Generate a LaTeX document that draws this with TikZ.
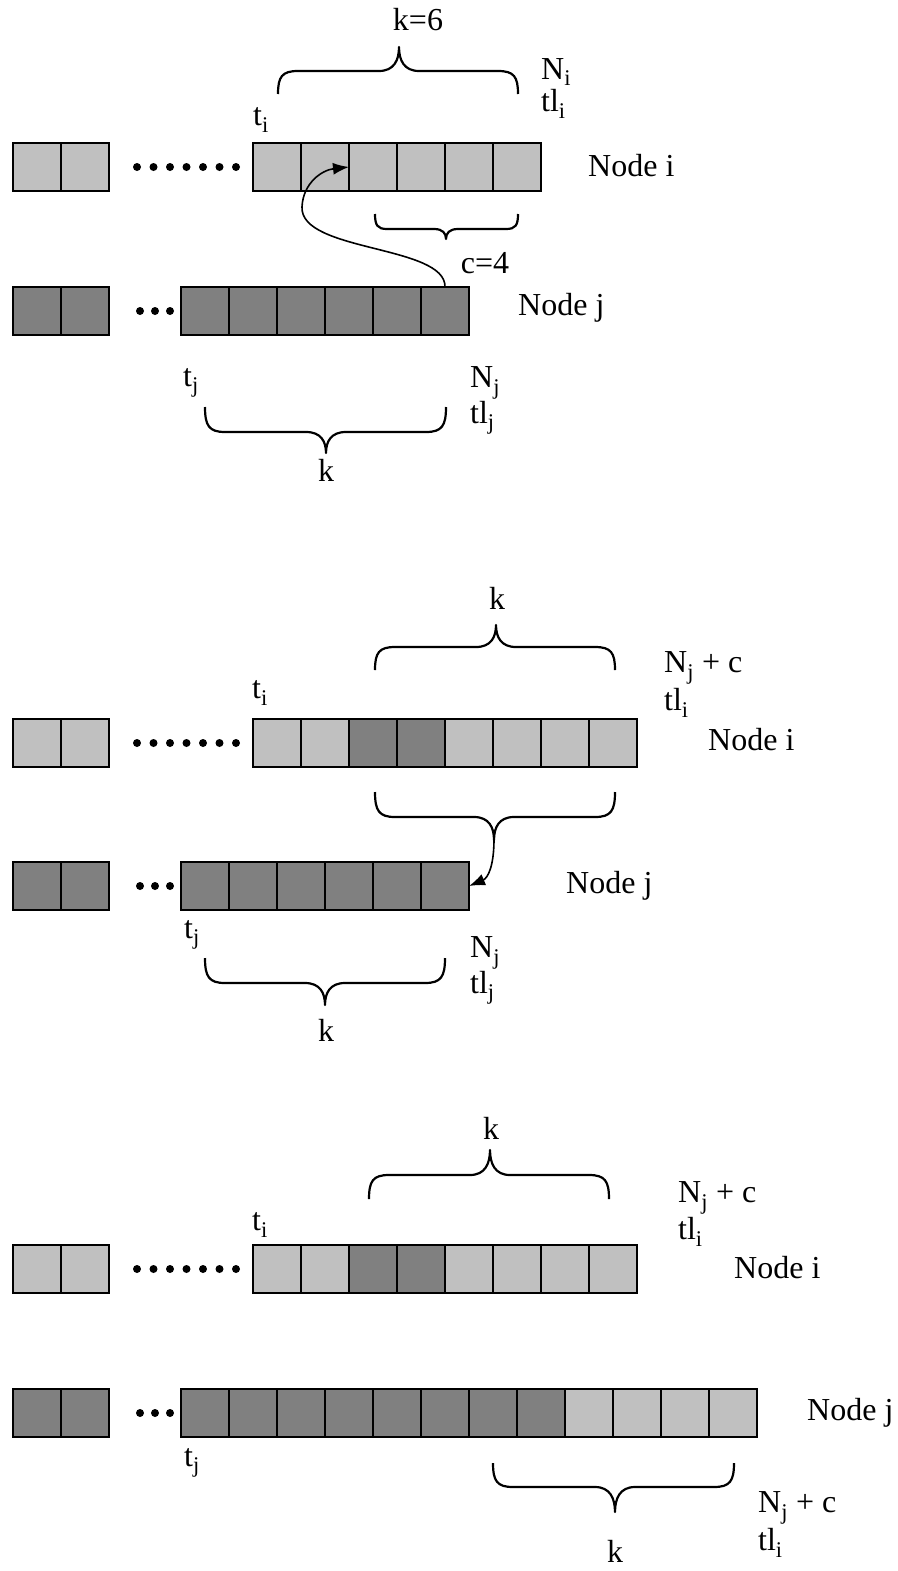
\documentclass[tikz,border=0pt]{standalone}
\usepackage{fontspec}
\setmainfont{Liberation Serif}
\usetikzlibrary{arrows.meta}
\definecolor{lightc}{HTML}{C0C0C0}
\definecolor{darkc}{HTML}{808080}
\newcommand{\hbr}[7]{%
 \draw[br] (#1,#4) .. controls (#1,{#5+0.25*(#4-#5)}) and ({#1+0.2*#7},#5) .. ({#1+#7},#5) -- ({#3-#7},#5) .. controls ({#3-0.25*#7},#5) and (#3,{#5+0.45*(#6-#5)}) .. (#3,#6) .. controls (#3,{#5+0.45*(#6-#5)}) and ({#3+0.25*#7},#5) .. ({#3+#7},#5) -- ({#2-#7},#5) .. controls ({#2-0.2*#7},#5) and (#2,{#5+0.25*(#4-#5)}) .. (#2,#4);}
\tikzset{
 cell/.style={draw=black, line width=1.8pt, minimum width=48pt, minimum height=48pt, inner sep=0pt, outer sep=0pt},
 lc/.style={cell, fill=lightc},
 dc/.style={cell, fill=darkc},
 lbl/.style={font=\fontsize{32}{38}\selectfont, inner sep=0pt},
 lblw/.style={lbl, anchor=west},
 br/.style={line width=2.2pt, line join=round},
 arr/.style={line width=1.6pt, -{Latex[length=16pt,width=12pt]}},
 dot/.style={circle, fill=black, inner sep=0pt, minimum size=8pt}
}
\begin{document}
\begin{tikzpicture}[x=1pt,y=-1pt]
\useasboundingbox (0,0) rectangle (897,1571);

% ---------------- Section 1 ----------------
\node[lc] (s1a1) at (37,167) {};
\node[lc] (s1a2) at (85,167) {};
\foreach \k in {1,...,7} \node[dot] (s1id\k) at ({137+16.5*(\k-1)},167) {};
\foreach \k in {1,...,6} \node[lc] (s1i\k) at ({229+48*\k},167) {};
\node[dc] (s1b1) at (37,311) {};
\node[dc] (s1b2) at (85,311) {};
\foreach \k in {1,...,3} \node[dot] (s1jd\k) at ({125+15*\k},311) {};
\foreach \k in {1,...,6} \node[dc] (s1j\k) at ({157+48*\k},311) {};

\hbr{278}{518}{399}{94}{71}{47}{20}
\hbr{375}{518}{446}{214}{229}{239}{12}
\hbr{205}{446}{326}{407}{432}{453}{20}

\draw[arr] (s1j6.north) .. controls (446,245) and (300,252) .. (302,207) .. controls (303,183) and (322,170) .. (s1i2.east);

\node[lbl] (k6) at (418,20) {k=6};
\node[lblw] (ni1) at (541,72) {N\textsubscript{i}};
\node[lblw] (tli1) at (541,104) {tl\textsubscript{i}};
\node[lbl] (ti1) at (261,120) {t\textsubscript{i}};
\node[lblw] (nodei1) at (588,166) {Node i};
\node[lbl] (c4) at (485,263) {c=4};
\node[lblw] (nodej1) at (518,308) {Node j};
\node[lbl] (tj1) at (191,383) {t\textsubscript{j}};
\node[lblw] (nj1) at (470,383) {N\textsubscript{j}};
\node[lblw] (tlj1) at (470,418) {tl\textsubscript{j}};
\node[lbl] (kb1) at (326,470) {k};

% ---------------- Section 2 ----------------
\node[lc] (s2a1) at (37,743) {};
\node[lc] (s2a2) at (85,743) {};
\foreach \k in {1,...,7} \node[dot] (s2id\k) at ({137+16.5*(\k-1)},743) {};
\foreach \k in {1,2,5,6,7,8} \node[lc] (s2i\k) at ({229+48*\k},743) {};
\foreach \k in {3,4} \node[dc] (s2i\k) at ({229+48*\k},743) {};
\node[dc] (s2b1) at (37,886) {};
\node[dc] (s2b2) at (85,886) {};
\foreach \k in {1,...,3} \node[dot] (s2jd\k) at ({125+15*\k},886) {};
\foreach \k in {1,...,6} \node[dc] (s2j\k) at ({157+48*\k},886) {};

\hbr{375}{615}{496}{670}{647}{625}{20}
\hbr{375}{615}{494}{792}{817}{840}{20}
\hbr{205}{445}{325}{958}{983}{1005}{20}

\coordinate (b2tip) at (494,839);
\draw[arr] (b2tip) .. controls (494,866) and (488,878) .. (s2j6.east);

\node[lbl] (kt2) at (497,598) {k};
\node[lblw] (njc2) at (664,668) {N\textsubscript{j} + c};
\node[lblw] (tli2) at (664,703) {tl\textsubscript{i}};
\node[lbl] (ti2) at (260,693) {t\textsubscript{i}};
\node[lblw] (nodei2) at (708,740) {Node i};
\node[lblw] (nodej2) at (566,886) {Node j};
\node[lbl] (tj2) at (192,935) {t\textsubscript{j}};
\node[lblw] (nj2) at (470,953) {N\textsubscript{j}};
\node[lblw] (tlj2) at (470,988) {tl\textsubscript{j}};
\node[lbl] (kb2) at (326,1030) {k};

% ---------------- Section 3 ----------------
\node[lc] (s3a1) at (37,1269) {};
\node[lc] (s3a2) at (85,1269) {};
\foreach \k in {1,...,7} \node[dot] (s3id\k) at ({137+16.5*(\k-1)},1269) {};
\foreach \k in {1,2,5,6,7,8} \node[lc] (s3i\k) at ({229+48*\k},1269) {};
\foreach \k in {3,4} \node[dc] (s3i\k) at ({229+48*\k},1269) {};
\node[dc] (s3b1) at (37,1413) {};
\node[dc] (s3b2) at (85,1413) {};
\foreach \k in {1,...,3} \node[dot] (s3jd\k) at ({125+15*\k},1413) {};
\foreach \k in {1,...,8} \node[dc] (s3j\k) at ({157+48*\k},1413) {};
\foreach \k in {9,...,12} \node[lc] (s3j\k) at ({157+48*\k},1413) {};

\hbr{369}{609}{490}{1199}{1175}{1150}{20}
\hbr{493}{734}{615}{1463}{1487}{1512}{20}

\node[lbl] (kt3) at (491,1128) {k};
\node[lblw] (njc3) at (678,1198) {N\textsubscript{j} + c};
\node[lblw] (tli3) at (678,1232) {tl\textsubscript{i}};
\node[lbl] (ti3) at (260,1225) {t\textsubscript{i}};
\node[lblw] (nodei3) at (734,1268) {Node i};
\node[lblw] (nodej3) at (807,1413) {Node j};
\node[lbl] (tj3) at (192,1463) {t\textsubscript{j}};
\node[lblw] (njc3b) at (758,1508) {N\textsubscript{j} + c};
\node[lblw] (tli3b) at (758,1543) {tl\textsubscript{i}};
\node[lbl] (kb3) at (615,1551) {k};
\end{tikzpicture}
\end{document}
